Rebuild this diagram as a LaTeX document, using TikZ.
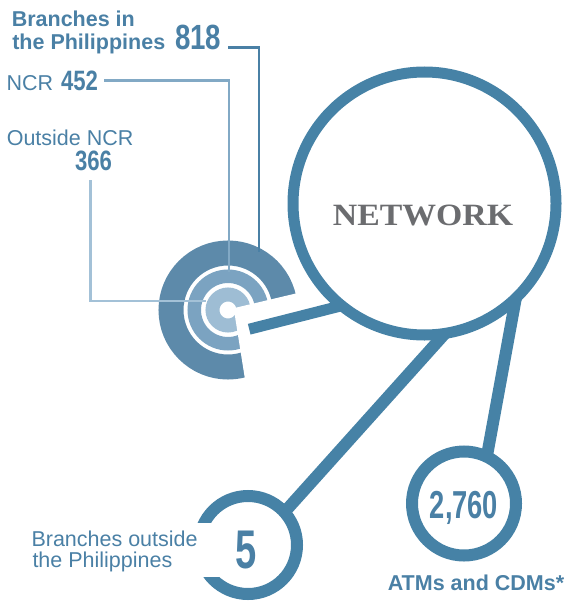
\documentclass[tikz,border=0pt]{standalone}
\usepackage{fontspec}
\setmainfont{Liberation Sans}
\newfontfamily\numwide{Liberation Sans}[FakeStretch=0.79]
\newfontfamily\numnarrow{Liberation Sans}[FakeStretch=0.70]
\newfontfamily\netfont{Liberation Serif}[FakeStretch=1.09]
\definecolor{ringblue}{HTML}{4682A6}
\definecolor{txtblue}{HTML}{4A80A5}
\definecolor{tgA}{HTML}{5D8AAA}
\definecolor{tgB}{HTML}{7BA3C1}
\definecolor{tgC}{HTML}{9EBDD4}
\definecolor{lineA}{HTML}{4A80A5}
\definecolor{lineB}{HTML}{82A9C5}
\definecolor{lineC}{HTML}{A3C1D7}
\definecolor{netgrey}{HTML}{6B6C6F}
\begin{document}
\begin{tikzpicture}[x=1pt,y=-1pt,
  ring/.style={circle, draw=ringblue, inner sep=0pt, outer sep=0pt},
  tring/.style={circle, inner sep=0pt, outer sep=0pt},
  conn/.style={draw=ringblue, line width=12pt},
  leader/.style={line width=2.5pt},
  txt/.style={inner sep=0pt, outer sep=0pt, text=txtblue},
  reg/.style={txt, font=\fontsize{21.5}{23}\selectfont},
  bld/.style={txt, font=\fontsize{21.5}{23}\selectfont\bfseries},
  numw/.style={txt, font={\numwide\bfseries\fontsize{#1}{#1}\selectfont}},
  numn/.style={txt, font={\numnarrow\bfseries\fontsize{#1}{#1}\selectfont}},
]
\useasboundingbox (0,0) rectangle (566,604);

% target rings
\node[tring, draw=tgA, line width=25pt, minimum size=114pt] (tgouter) at (228,310) {};
\node[tring, draw=tgB, line width=13.5pt, minimum size=67.5pt] (tgmid) at (228,310) {};
\node[tring, draw=tgC, line width=14pt, minimum size=31pt] (tginner) at (228,310) {};
% missing wedge of the target
\fill[white] (233.7,308.2) -- (326.2,286.3) -- (340.2,382.8) -- (248.6,402) -- cycle;

% leader lines
\coordinate (s818) at (228.3,47.5);
\coordinate (e818) at (258.8,252);
\coordinate (sncr) at (104.3,80.3);
\coordinate (encr) at (228.8,272);
\coordinate (s366) at (90.7,180);
\coordinate (e366) at (206,301);
\draw[leader, draw=lineA] (s818) -| (e818);
\draw[leader, draw=lineB] (sncr) -| (encr);
\draw[leader, draw=lineC] (s366) |- (e366);

% main rings
\node[ring, line width=11pt, minimum size=263pt] (net) at (424.5,203.5) {};
\node[ring, line width=12pt, minimum size=98pt] (five) at (248,545) {};
\node[ring, line width=12pt, minimum size=104pt] (atm) at (464,503.5) {};

% connectors
\coordinate (tgbar) at (249.2,329.2);
\draw[conn, line width=11pt] (tgbar) -- (net.-129.1);
\draw[conn] (net.-81) -- (five.42.9);
\draw[conn] (net.-46.3) -- (atm.64.7);

% gap in the small ring for its label
\fill[white] (185,523) rectangle (223,577);

% texts
\node[bld, anchor=base west] (bph1) at (11.8,27) {Branches in};
\node[bld, anchor=base west] (bph2) at (12.3,50) {the Philippines};
\node[numw=35, anchor=base west] (n818) at (175,50) {818};
\node[reg, anchor=base west] (ncr) at (6.5,91) {NCR};
\node[numw=28, anchor=base west] (n452) at (61,91) {452};
\node[reg, anchor=base west] (ocr) at (6.8,146) {Outside NCR};
\node[numw=28, anchor=base west] (n366) at (75,170) {366};
\node[reg, anchor=base west] (bo1) at (31.5,546) {Branches outside};
\node[reg, anchor=base west] (bo2) at (32.5,567) {the Philippines};
\node[numn=54.5, anchor=base] (n5) at (246,568) {5};
\node[numn=39, anchor=base] (n2760) at (464,518) {2,760};
\node[bld, anchor=base] (atmlbl) at (476,590) {ATMs and CDMs*};
\node[inner sep=0pt, text=netgrey, font={\netfont\bfseries\fontsize{31}{31}\selectfont}, anchor=base] (nettxt) at (423,225.7) {NETWORK};
\end{tikzpicture}
\end{document}
